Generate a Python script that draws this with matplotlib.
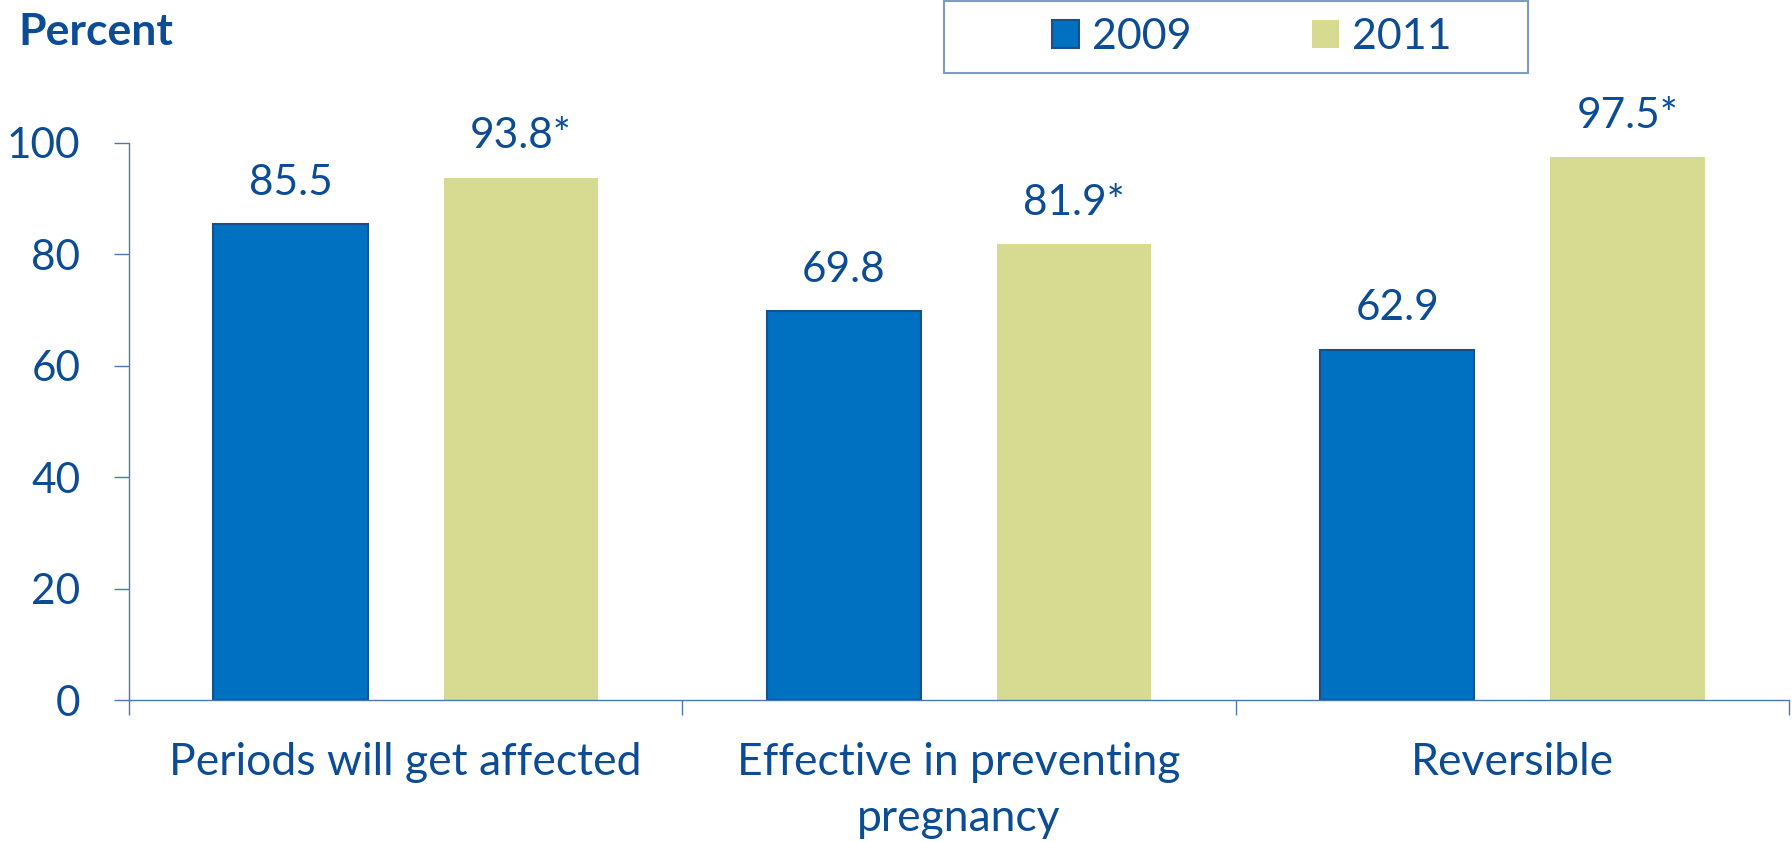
import matplotlib.pyplot as plt
from matplotlib.patches import Rectangle
import numpy as np

# data
categories = ['Periods will get affected', 'Effective in preventing\npregnancy', 'Reversible']
years = ['2009', '2011']
vals_2009 = [85.5, 69.8, 62.9]
vals_2011 = [93.8, 81.9, 97.5]
labels_2009 = ['85.5', '69.8', '62.9']
labels_2011 = ['93.8*', '81.9*', '97.5*']

txt = '#0B4C94'
blue = '#0070C0'
olive = '#D6DB91'
axcol = '#4F76AC'

plt.rcParams['font.family'] = ['Lato', 'DejaVu Sans']

fig = plt.figure(figsize=(17.92, 8.42), dpi=100)
ax = fig.add_axes([129/1792, (842-700)/842, (1789-129)/1792, (700-143)/842])

x = np.arange(len(categories))
w = 0.279
off = 0.208
b1 = ax.bar(x - off, vals_2009, w, color=blue, edgecolor='#1A4F8A', linewidth=1.5, label=years[0])
b2 = ax.bar(x + off, vals_2011, w, color=olive, edgecolor=olive, linewidth=0, label=years[1])

for rects, labs in [(b1, labels_2009), (b2, labels_2011)]:
    for r, l in zip(rects, labs):
        ax.annotate(l, (r.get_x() + r.get_width()/2, r.get_height()),
                    xytext=(0, 16), textcoords='offset points',
                    ha='center', va='bottom', fontsize=30.5, color=txt, clip_on=False)

ax.set_xlim(-0.5, 2.5)
ax.set_ylim(0, 100)
ax.set_yticks([0, 20, 40, 60, 80, 100])
ax.set_xticks(x)
ax.set_xticklabels(categories)
ax.set_xticks([-0.5, 0.5, 1.5, 2.5], minor=True)
ax.tick_params(axis='x', which='major', length=0, pad=30, labelsize=32, labelcolor=txt)
ax.tick_params(axis='x', which='minor', length=11, width=1, color=axcol, direction='out')
ax.tick_params(axis='y', length=11, width=1, color=axcol, direction='out', pad=24,
               labelsize=30.5, labelcolor=txt)
for lab in ax.get_xticklabels():
    lab.set_linespacing(1.45)

for s in ['top', 'right']:
    ax.spines[s].set_visible(False)
for s in ['left', 'bottom']:
    ax.spines[s].set_color(axcol)
    ax.spines[s].set_linewidth(1)

fig.text(18/1792, 1 - 45/842, 'Percent', fontsize=32, fontweight='bold', color=txt,
         ha='left', va='baseline')

# legend box
fig.add_artist(Rectangle((944/1792, 1 - 73/842), (1528-944)/1792, 72/842,
                         transform=fig.transFigure, fill=False,
                         edgecolor='#7F9CC0', linewidth=1.5))
leg = fig.legend(loc='center', bbox_to_anchor=(1252/1792, 1 - 37/842),
                 ncol=2, fontsize=31, frameon=False,
                 handlelength=0.63, handleheight=0.63, handletextpad=0.3, columnspacing=2.8,
                 labelcolor=txt)

fig.savefig('out.png', dpi=100)
